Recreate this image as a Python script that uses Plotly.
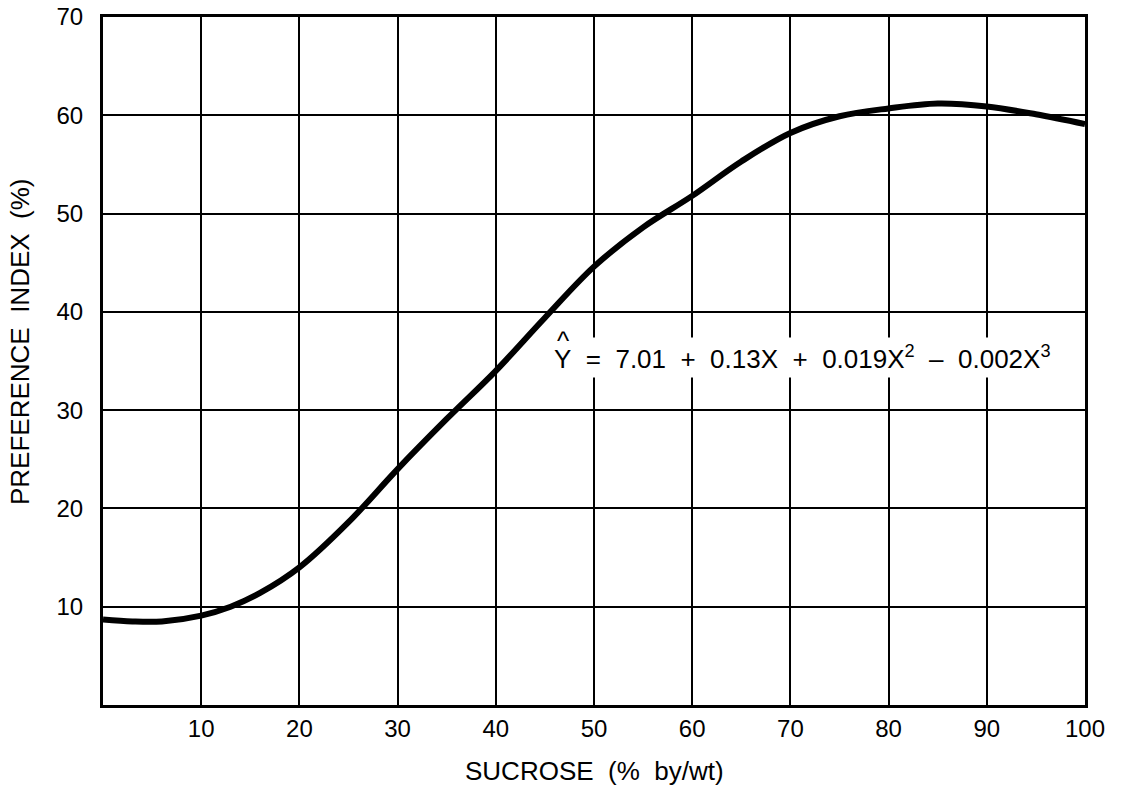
import plotly.graph_objects as go

# Data
sucrose = [0, 3, 6, 10, 13, 16, 20, 25, 30, 35, 40, 45, 50, 55, 60, 65, 70, 75, 80, 85, 90, 95, 100]
preference = [8.7, 8.5, 8.5, 9.1, 10.0, 11.4, 14.0, 18.6, 24.0, 29.1, 34.0, 39.4, 44.6, 48.6, 51.8,
              55.3, 58.2, 59.9, 60.7, 61.2, 60.9, 60.1, 59.1]

x_ticks = [10, 20, 30, 40, 50, 60, 70, 80, 90, 100]
y_ticks = [10, 20, 30, 40, 50, 60, 70]

x_title = "SUCROSE\u00a0 (%\u00a0 by/wt)"
y_title = "PREFERENCE\u00a0 INDEX\u00a0 (%)"
equation = ("Y\u00a0 =\u00a0 7.01\u00a0 +\u00a0 0.13X\u00a0 +\u00a0 0.019X<sup>2</sup>"
            "\u00a0 \u2013\u00a0 0.002X<sup>3</sup>")
eq_x, eq_y = 45.5, 35.4

FONT = "Liberation Sans, Arial, Helvetica, sans-serif"

fig = go.Figure()
fig.add_trace(go.Scatter(
    x=sucrose, y=preference, mode="lines",
    line=dict(color="black", width=6, shape="spline", smoothing=1.0),
    hoverinfo="skip", showlegend=False,
))

fig.update_layout(
    width=1123, height=786,
    margin=dict(l=103, r=38, t=17, b=81),
    paper_bgcolor="white", plot_bgcolor="white",
    font=dict(family=FONT, color="black", size=24),
    xaxis=dict(
        range=[0, 100], tickvals=x_ticks, ticktext=[str(v) for v in x_ticks],
        showgrid=True, gridcolor="black", gridwidth=2,
        showline=True, linecolor="black", linewidth=3, mirror=True,
        ticks="", ticklabelstandoff=0, zeroline=False, automargin=False,
        tickfont=dict(size=24, family=FONT, color="black"),
    ),
    yaxis=dict(
        range=[0, 70], tickvals=y_ticks, ticktext=[str(v) for v in y_ticks],
        showgrid=True, gridcolor="black", gridwidth=2,
        showline=True, linecolor="black", linewidth=3, mirror=True,
        ticks="", ticklabelstandoff=12, zeroline=False, automargin=False,
        tickfont=dict(size=24, family=FONT, color="black"),
    ),
    annotations=[
        dict(text=x_title, xref="paper", yref="paper", x=0.5, y=0, yshift=-66,
             xanchor="center", yanchor="middle", showarrow=False,
             font=dict(size=26, family=FONT, color="black")),
        dict(text=y_title, xref="paper", yref="paper", x=0, y=0.5, xshift=-83, yshift=19,
             xanchor="center", yanchor="middle", textangle=-90, showarrow=False,
             font=dict(size=26, family=FONT, color="black")),
        dict(text=equation, xref="x", yref="y", x=eq_x, y=eq_y,
             xanchor="left", yanchor="middle", showarrow=False, bgcolor="white",
             borderpad=3, font=dict(size=26, family=FONT, color="black")),
        dict(text="^", xref="x", yref="y", x=eq_x + 0.5, y=eq_y + 1.6,
             xanchor="left", yanchor="middle", showarrow=False,
             font=dict(size=26, family=FONT, color="black")),
    ],
)

fig.write_html("out.html", config={"displayModeBar": False},
               post_script="document.body.style.margin='0';")
